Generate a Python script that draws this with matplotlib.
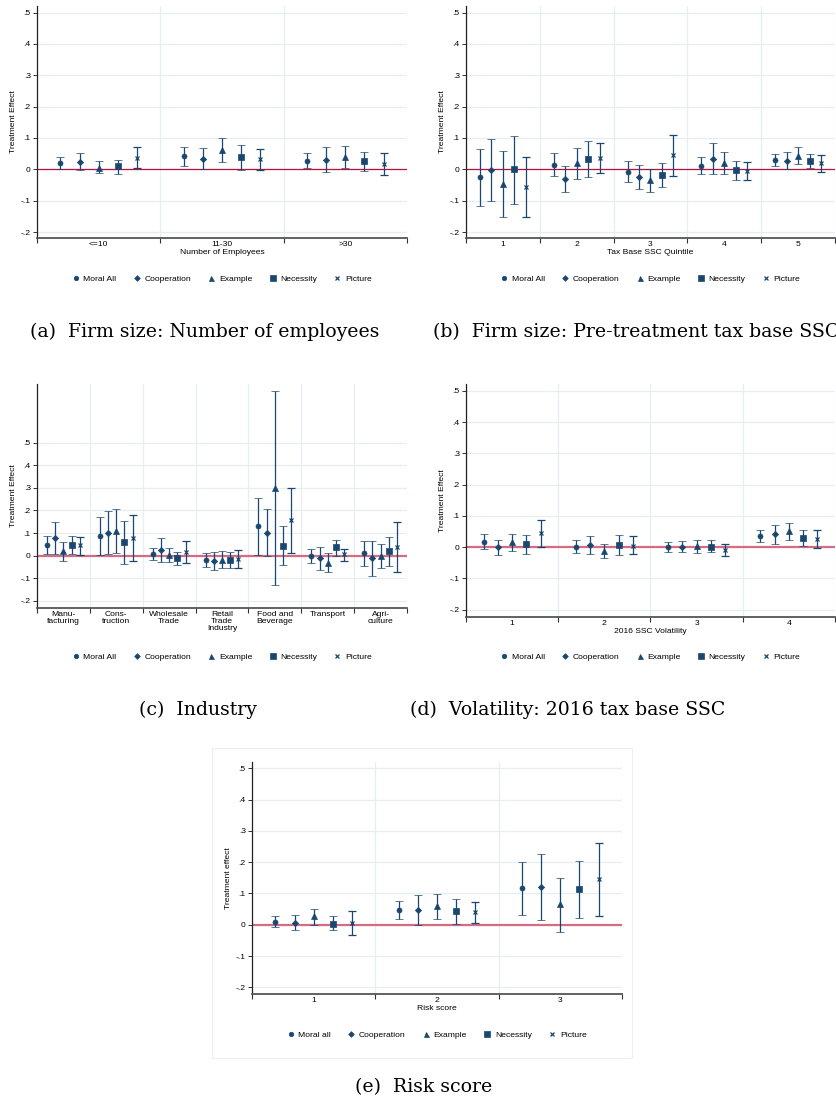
import matplotlib
matplotlib.use("Agg")
from matplotlib import pyplot as plt
from matplotlib.lines import Line2D
from matplotlib.patches import Rectangle

W, H = 837, 1101

series = ["Moral All", "Cooperation", "Example", "Necessity", "Picture"]
markers = ["o", "D", "^", "s", "x"]
msizes = [3.6, 3.2, 4.0, 4.2, 3.0]

# (a) number of employees
emp_groups = ["<=10", "11-30", ">30"]
emp_est = [[0.019, 0.041, 0.028], [0.024, 0.034, 0.031], [0.005, 0.062, 0.040],
           [0.011, 0.039, 0.026], [0.037, 0.032, 0.017]]
emp_lo = [[0.000, 0.011, 0.003], [-0.003, 0.000, -0.007], [-0.013, 0.022, 0.005],
          [-0.015, -0.001, -0.004], [0.003, -0.001, -0.019]]
emp_hi = [[0.038, 0.072, 0.052], [0.051, 0.067, 0.070], [0.027, 0.100, 0.076],
          [0.031, 0.078, 0.055], [0.071, 0.066, 0.053]]

# (b) tax base SSC quintile
tax_groups = ["1", "2", "3", "4", "5"]
tax_est = [[-0.026, 0.015, -0.009, 0.012, 0.029], [-0.003, -0.031, -0.023, 0.034, 0.028],
           [-0.046, 0.019, -0.034, 0.021, 0.044], [0.000, 0.032, -0.019, -0.003, 0.026],
           [-0.056, 0.036, 0.045, -0.005, 0.020]]
tax_lo = [[-0.116, -0.022, -0.041, -0.015, 0.010], [-0.102, -0.071, -0.062, -0.016, 0.000],
          [-0.152, -0.032, -0.071, -0.014, 0.018], [-0.109, -0.026, -0.056, -0.035, 0.003],
          [-0.151, -0.013, -0.022, -0.035, -0.007]]
tax_hi = [[0.064, 0.051, 0.027, 0.038, 0.048], [0.097, 0.011, 0.015, 0.084, 0.055],
          [0.060, 0.068, 0.002, 0.056, 0.071], [0.106, 0.091, 0.019, 0.027, 0.050],
          [0.038, 0.085, 0.110, 0.024, 0.047]]

# (c) industry
ind_groups = ["Manu-\nfacturing", "Cons-\ntruction", "Wholesale\nTrade", "Retail\nTrade\nIndustry",
              "Food and\nBeverage", "Transport", "Agri-\nculture"]
ind_est = [[0.049, 0.086, 0.007, -0.019, 0.130, -0.003, 0.012],
           [0.077, 0.102, 0.027, -0.024, 0.100, -0.012, -0.010],
           [0.019, 0.111, 0.004, -0.018, 0.301, -0.031, 0.000],
           [0.047, 0.059, -0.012, -0.021, 0.041, 0.037, 0.019],
           [0.046, 0.077, 0.018, -0.015, 0.157, 0.006, 0.038]]
ind_lo = [[0.007, 0.003, -0.021, -0.050, 0.003, -0.034, -0.044],
          [0.007, 0.009, -0.027, -0.065, -0.003, -0.062, -0.090],
          [-0.025, 0.010, -0.030, -0.053, -0.130, -0.074, -0.056],
          [0.007, -0.038, -0.040, -0.056, -0.043, 0.000, -0.046],
          [0.004, -0.025, -0.031, -0.055, 0.013, -0.022, -0.074]]
ind_hi = [[0.089, 0.170, 0.035, 0.010, 0.257, 0.030, 0.066],
          [0.148, 0.196, 0.080, 0.016, 0.205, 0.040, 0.066],
          [0.062, 0.208, 0.032, 0.019, 0.731, 0.013, 0.052],
          [0.086, 0.155, 0.015, 0.018, 0.130, 0.071, 0.081],
          [0.084, 0.179, 0.064, 0.024, 0.298, 0.031, 0.151]]

# (d) 2016 SSC volatility
vol_groups = ["1", "2", "3", "4"]
vol_est = [[0.016, 0.001, -0.001, 0.035], [-0.001, 0.006, 0.001, 0.041],
           [0.015, -0.013, 0.002, 0.050], [0.009, 0.005, 0.001, 0.028],
           [0.044, 0.003, -0.010, 0.026]]
vol_lo = [[-0.007, -0.020, -0.017, 0.015], [-0.027, -0.021, -0.017, 0.011],
          [-0.013, -0.036, -0.019, 0.021], [-0.023, -0.025, -0.017, 0.004],
          [0.000, -0.023, -0.029, -0.002]]
vol_hi = [[0.041, 0.022, 0.015, 0.055], [0.023, 0.034, 0.020, 0.072],
          [0.041, 0.011, 0.023, 0.076], [0.039, 0.037, 0.021, 0.053],
          [0.086, 0.034, 0.009, 0.053]]

# (e) risk score
risk_groups = ["1", "2", "3"]
risk_est = [[0.010, 0.047, 0.117], [0.006, 0.048, 0.120], [0.028, 0.060, 0.065],
            [0.004, 0.043, 0.113], [0.006, 0.042, 0.145]]
risk_lo = [[-0.007, 0.018, 0.031], [-0.017, 0.000, 0.014], [0.000, 0.018, -0.024],
           [-0.018, 0.004, 0.022], [-0.031, 0.007, 0.029]]
risk_hi = [[0.029, 0.076, 0.202], [0.030, 0.096, 0.227], [0.051, 0.099, 0.151],
           [0.029, 0.082, 0.204], [0.045, 0.073, 0.262]]

yticks = [-0.2, -0.1, 0, 0.1, 0.2, 0.3, 0.4, 0.5]
ytick_labels = ["-.2", "-.1", "0", ".1", ".2", ".3", ".4", ".5"]
offsets = [-0.31, -0.155, 0.0, 0.155, 0.31]

navy = "#1a476f"
grid_c = "#e6eef0"
sans = "Liberation Sans"
fs = 6.1

fig = plt.figure(figsize=(W / 100, H / 100), dpi=100)


def px_axes(l, t, r, b):
    return fig.add_axes([l / W, 1 - b / H, (r - l) / W, (b - t) / H])


def panel(box, groups, est, lo, hi, ylim, xlabel, ylabel, legend_y, labels,
          zero_c, zero_lw):
    ax = px_axes(*box)
    n = len(groups)
    for k in range(5):
        xs = [g + 1 + offsets[k] for g in range(n)]
        yerr = [[e - l for e, l in zip(est[k], lo[k])],
                [h - e for e, h in zip(est[k], hi[k])]]
        ax.errorbar(xs, est[k], yerr=yerr, fmt=markers[k], color=navy,
                    ms=msizes[k], mew=0.9 if markers[k] == "x" else 0.5,
                    ecolor=navy, elinewidth=0.9, capsize=2.6, capthick=0.9, zorder=3)
    ax.axhline(0, color=zero_c, lw=zero_lw, zorder=2)
    ax.set_xlim(0.5, n + 0.5)
    ax.set_ylim(*ylim)
    ax.set_yticks(yticks)
    ax.set_yticklabels(ytick_labels, fontsize=fs, family=sans)
    ax.set_xticks([g + 0.5 for g in range(n + 1)])
    ax.set_xticklabels([])
    ax.set_xticks([g + 1 for g in range(n)], minor=True)
    ax.set_xticklabels(groups, minor=True, fontsize=fs, family=sans, linespacing=1.0)
    ax.tick_params(axis="x", which="minor", length=0, pad=2)
    ax.tick_params(axis="x", which="major", length=3.5, width=0.8, color="#333333")
    ax.tick_params(axis="y", length=3, width=0.7, color="#333333", pad=1.5)
    ax.grid(True, which="major", color=grid_c, lw=0.9, zorder=0)
    ax.set_axisbelow(True)
    for s in ["top", "right"]:
        ax.spines[s].set_visible(False)
    ax.spines["left"].set_color("#222222")
    ax.spines["left"].set_linewidth(0.9)
    ax.spines["bottom"].set_color("#555555")
    ax.spines["bottom"].set_linewidth(1.3)
    if xlabel:
        ax.set_xlabel(xlabel, fontsize=fs, family=sans, labelpad=1)
    ax.set_ylabel(ylabel, fontsize=fs, family=sans, labelpad=3)
    handles = [Line2D([], [], marker=markers[k], color=navy, linestyle="none",
                      ms=msizes[k] * 0.9, mew=0.9 if markers[k] == "x" else 0.5)
               for k in range(5)]
    cx = (box[0] + box[2]) / 2
    ax.legend(handles, labels, ncol=5, loc="center", frameon=False,
              bbox_to_anchor=(cx / W, 1 - legend_y / H), bbox_transform=fig.transFigure,
              prop={"family": sans, "size": fs}, handlelength=0.8, handletextpad=0.5,
              columnspacing=2.0)
    return ax


labels_A = series
labels_e = ["Moral all"] + series[1:]

panel((37, 6, 407, 238), emp_groups, emp_est, emp_lo, emp_hi, (-0.219, 0.521),
      "Number of Employees", "Treatment Effect", 279, labels_A, "#b8123c", 0.9)
panel((466, 6, 835, 238), tax_groups, tax_est, tax_lo, tax_hi, (-0.219, 0.521),
      "Tax Base SSC Quintile", "Treatment Effect", 279, labels_A, "#b8123c", 0.9)
panel((37, 384, 407, 608), ind_groups, ind_est, ind_lo, ind_hi, (-0.232, 0.760),
      None, "Treatment Effect", 657, labels_A, "#d66c84", 1.6)
panel((466, 384, 835, 617), vol_groups, vol_est, vol_lo, vol_hi, (-0.224, 0.522),
      "2016 SSC Volatility", "Treatment Effect", 657, labels_A, "#d66c84", 1.6)
panel((252, 762, 622, 994), risk_groups, risk_est, risk_lo, risk_hi, (-0.221, 0.520),
      "Risk score", "Treatment effect", 1035, labels_e, "#d66c84", 1.6)

# faint outline of the last graph region
fig.add_artist(Rectangle((212 / W, 1 - 1058 / H), (632 - 212) / W, (1058 - 748) / H,
                         transform=fig.transFigure, fill=False, ec="#eeeeee", lw=0.8))

serif = "DejaVu Serif"
cfs = 13.6
fig.text(30 / W, 1 - 332 / H, "(a)  Firm size: Number of employees", family=serif,
         fontsize=cfs, va="center", ha="left")
fig.text(433 / W, 1 - 332 / H, "(b)  Firm size: Pre-treatment tax base SSC", family=serif,
         fontsize=cfs, va="center", ha="left")
fig.text(139 / W, 1 - 710 / H, "(c)  Industry", family=serif, fontsize=cfs,
         va="center", ha="left")
fig.text(410 / W, 1 - 710 / H, "(d)  Volatility: 2016 tax base SSC", family=serif,
         fontsize=cfs, va="center", ha="left")
fig.text(355 / W, 1 - 1087 / H, "(e)  Risk score", family=serif, fontsize=cfs,
         va="center", ha="left")

fig.savefig("out.png", dpi=100)
